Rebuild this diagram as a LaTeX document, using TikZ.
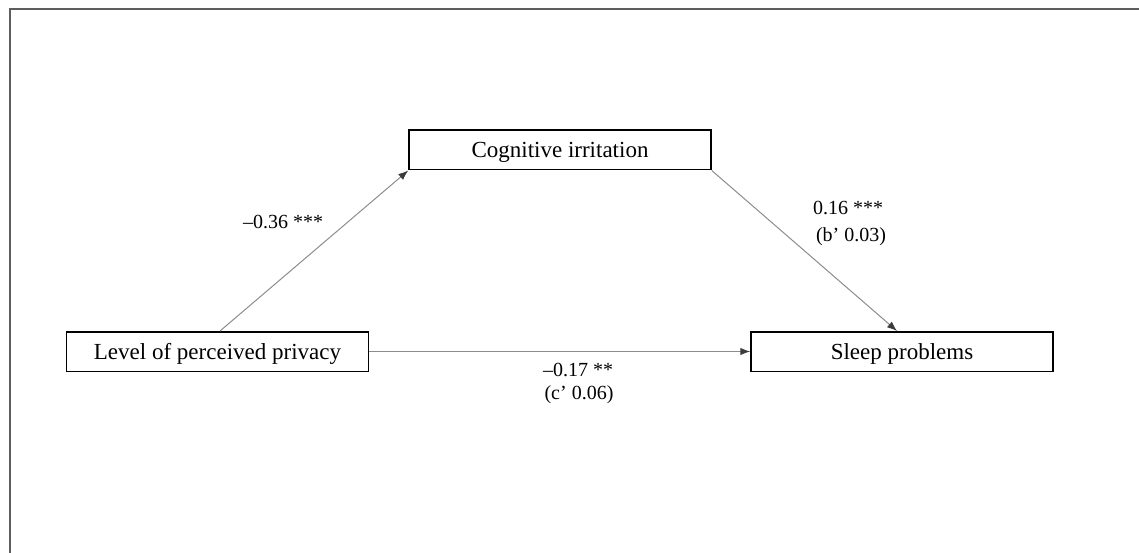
\documentclass[tikz,border=0pt]{standalone}
\usepackage{fontspec}
\setmainfont{Liberation Serif}
\usetikzlibrary{arrows.meta,calc}
\definecolor{framec}{HTML}{5E5E5E}
\definecolor{linec}{HTML}{8C8C8C}
\definecolor{tipc}{HTML}{3C3C3C}
\tikzset{
  varbox/.style={draw=black, line width=1.5pt, minimum width=302pt, minimum height=39.5pt, inner sep=0pt,
    text height=15.2pt, text depth=0pt, font=\fontsize{23}{27}\selectfont},
  path/.style={draw=linec, line width=1pt, -{Latex[length=10pt,width=7.5pt,color=tipc]}},
  coef/.style={inner sep=0pt, font=\fontsize{20}{24}\selectfont},
}
\begin{document}
\begin{tikzpicture}[x=1pt,y=-1pt]
\useasboundingbox (0,0) rectangle (1139,553);
\draw[framec, line width=2pt] (9.5,553) -- (9.5,9.5) -- (1139,9.5);
\node[varbox] (cog) at (560,150) {Cognitive irritation};
\node[varbox] (lev) at (217.5,351.5) {Level of perceived privacy};
\node[varbox] (slp) at (902,351.5) {Sleep problems};
\coordinate (levtop) at ($(lev.north)+(2.5,0)$);
\coordinate (slptop) at ($(slp.north)+(-5,0)$);
\draw[path] (levtop) -- (cog.south west);
\draw[path] (cog.south east) -- (slptop);
\draw[path] (lev.east) -- (slp.west);
\node[coef] (a) at (283,222) {–0.36 ***};
\node[coef] (b1) at (848,208) {0.16 ***};
\node[coef] (b2) at (851,237) {(b’ 0.03)};
\node[coef] (c1) at (578,370) {–0.17 **};
\node[coef] (c2) at (579,395) {(c’ 0.06)};
\end{tikzpicture}
\end{document}
